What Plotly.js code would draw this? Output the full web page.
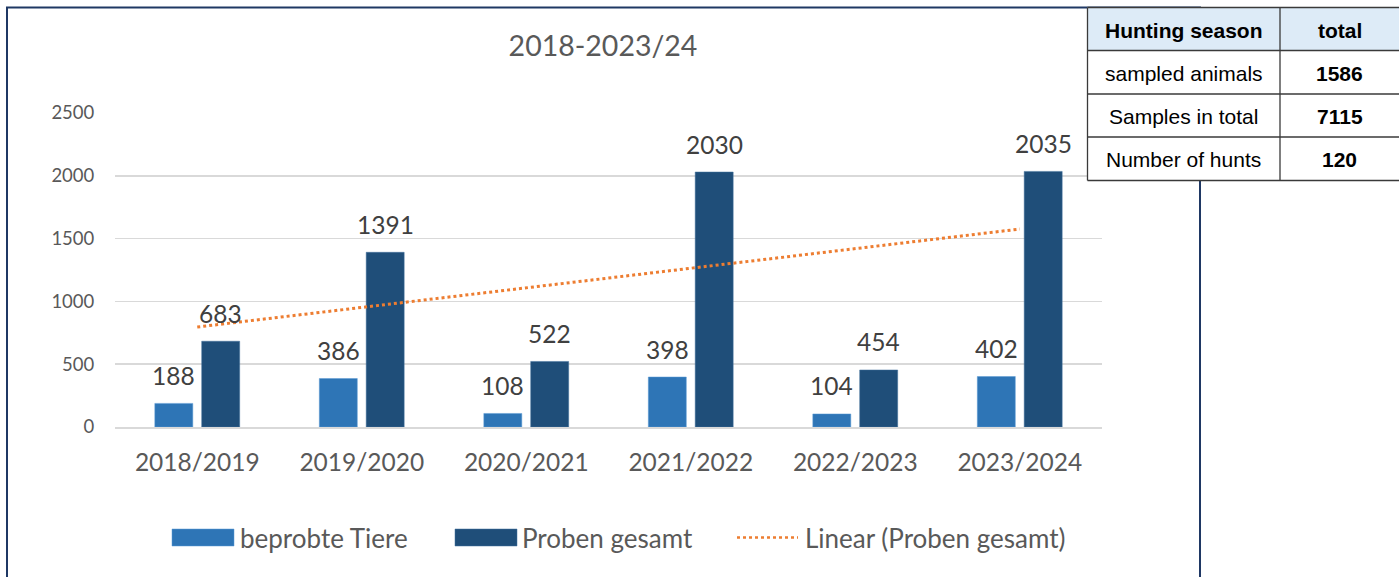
<!DOCTYPE html>
<html>
<head>
<meta charset="utf-8">
<script src="https://cdn.plot.ly/plotly-3.0.1.min.js"></script>
<style>html,body{margin:0;padding:0;background:#fff;}#chart{width:1399px;height:577px;}</style>
</head>
<body>
<div id="chart"></div>
<script>
// ---- data ----
const categories = ['2018/2019', '2019/2020', '2020/2021', '2021/2022', '2022/2023', '2023/2024'];
const beprobteTiere = [188, 386, 108, 398, 104, 402];
const probenGesamt = [683, 1391, 522, 2030, 454, 2035];
// linear trendline endpoints
const trendCategories = ['2018/2019', '2023/2024'];
const trendValues = [796, 1576];
const yTicks = [0, 500, 1000, 1500, 2000, 2500];
const seriesNames = ['beprobte Tiere', 'Proben gesamt', 'Linear (Proben gesamt)'];
// side table
const tableHeader = ['Hunting season', 'total'];
const tableLabels = ['sampled animals', 'Samples in total', 'Number of hunts'];
const tableTotals = [1586, 7115, 120];

const W = 1399, H = 577;
const px = v => v / W;
const py = v => (H - v) / H;

const font = 'Lato, "Open Sans", sans-serif';
const tfont = '"Liberation Sans", Arial, sans-serif';
const grey = '#595959';
const colLight = '#2E75B6', colDark = '#1F4E79', colTrend = '#ED7D31';

const traces = [
  {type: 'bar', name: seriesNames[0], x: categories, y: beprobteTiere,
    marker: {color: colLight, line: {color: '#5B9BD5', width: 0.5}}, hoverinfo: 'skip'},
  {type: 'bar', name: seriesNames[1], x: categories, y: probenGesamt,
    marker: {color: colDark, line: {color: '#41719C', width: 0.5}}, hoverinfo: 'skip'},
  {type: 'scatter', mode: 'lines', name: seriesNames[2], x: trendCategories, y: trendValues,
    line: {color: colTrend, width: 3, dash: 'dot'}, hoverinfo: 'skip'}
];

const annotations = [];
categories.forEach((c, i) => {
  annotations.push({x: c, y: beprobteTiere[i], xref: 'x', yref: 'y', text: String(beprobteTiere[i]),
    showarrow: false, xshift: -23.5, yshift: 28, yanchor: 'middle',
    font: {family: font, size: 24.5, color: '#404040'}});
  annotations.push({x: c, y: probenGesamt[i], xref: 'x', yref: 'y', text: String(probenGesamt[i]),
    showarrow: false, xshift: 23.5, yshift: 28, yanchor: 'middle',
    font: {family: font, size: 24.5, color: '#404040'}});
});

const shapes = [
  // chart frame
  {type: 'rect', xref: 'paper', yref: 'paper', x0: px(7), x1: px(1200), y0: py(578), y1: py(7.5),
    line: {color: '#1F3864', width: 2}, fillcolor: 'rgba(0,0,0,0)', layer: 'below'}
];

// custom legend
const legY = 537.5;
shapes.push({type: 'rect', xref: 'paper', yref: 'paper', x0: px(172), x1: px(234), y0: py(546), y1: py(529),
  fillcolor: colLight, line: {color: '#5B9BD5', width: 0.5}});
shapes.push({type: 'rect', xref: 'paper', yref: 'paper', x0: px(455), x1: px(517), y0: py(546), y1: py(529),
  fillcolor: colDark, line: {color: '#41719C', width: 0.5}});
shapes.push({type: 'line', xref: 'paper', yref: 'paper', x0: px(737), x1: px(798), y0: py(legY), y1: py(legY),
  line: {color: colTrend, width: 2.5, dash: 'dot'}});
[[238, 0], [520, 1], [803, 2]].forEach(([x, k]) => {
  annotations.push({xref: 'paper', yref: 'paper', x: px(x), y: py(legY), xanchor: 'left', yanchor: 'middle',
    text: seriesNames[k], showarrow: false, font: {family: font, size: 26, color: grey}});
});

// side table
const colX = [1087.5, 1280, 1400];
const rowY = [7.5, 50.5, 94, 137, 180.5];
shapes.push({type: 'rect', xref: 'paper', yref: 'paper', x0: px(colX[0]), x1: px(colX[2]), y0: py(rowY[4]), y1: py(rowY[0]),
  fillcolor: '#FFFFFF', line: {width: 0}, layer: 'above'});
shapes.push({type: 'rect', xref: 'paper', yref: 'paper', x0: px(colX[0]), x1: px(colX[2]), y0: py(rowY[1]), y1: py(rowY[0]),
  fillcolor: '#DDEBF7', line: {width: 0}, layer: 'above'});
rowY.forEach(y => shapes.push({type: 'line', xref: 'paper', yref: 'paper', x0: px(colX[0]), x1: px(colX[2]), y0: py(y), y1: py(y),
  line: {color: '#3A3A3A', width: 1.3}, layer: 'above'}));
colX.slice(0, 2).forEach(x => shapes.push({type: 'line', xref: 'paper', yref: 'paper', x0: px(x), x1: px(x), y0: py(rowY[4]), y1: py(rowY[0]),
  line: {color: '#3A3A3A', width: 1.3}, layer: 'above'}));
const cellText = (txt, ci, ri, bold) => ({
  xref: 'paper', yref: 'paper', x: px((colX[ci] + (ci === 1 ? 1399 : colX[ci + 1])) / 2),
  y: py((rowY[ri] + rowY[ri + 1]) / 2 + 1), xanchor: 'center', yanchor: 'middle', showarrow: false,
  text: bold ? '<b>' + txt + '</b>' : txt, font: {family: tfont, size: 21, color: '#000'}
});
tableHeader.forEach((t, ci) => annotations.push(cellText(t, ci, 0, true)));
tableLabels.forEach((t, ri) => {
  annotations.push(cellText(t, 0, ri + 1, false));
  annotations.push(cellText(String(tableTotals[ri]), 1, ri + 1, true));
});

const layout = {
  width: W, height: H,
  margin: {l: 0, r: 0, t: 0, b: 0, autoexpand: false},
  paper_bgcolor: '#fff', plot_bgcolor: '#fff',
  font: {family: font, color: grey},
  title: {text: '2018-2023/24', x: px(603), xanchor: 'center', y: py(46), yanchor: 'middle', xref: 'paper', yref: 'paper',
    font: {family: font, size: 28.5, color: grey}},
  barmode: 'group', bargap: 0.43, bargroupgap: 0.19,
  showlegend: false,
  xaxis: {
    domain: [px(115), px(1102)], anchor: 'y',
    type: 'category', showgrid: false, zeroline: false,
    showline: true, linecolor: '#D9D9D9', linewidth: 1.5,
    ticks: 'outside', ticklen: 13, tickcolor: 'rgba(0,0,0,0)',
    tickfont: {family: font, size: 24.5, color: grey}
  },
  yaxis: {
    domain: [py(427), py(113)], anchor: 'x',
    range: [0, 2500], tickvals: yTicks, ticktext: yTicks.map(String),
    showgrid: true, gridcolor: '#D9D9D9', gridwidth: 1.5, zeroline: false, showline: false,
    ticks: 'outside', ticklen: 16, tickcolor: 'rgba(0,0,0,0)',
    tickfont: {family: font, size: 18.5, color: grey}
  },
  shapes: shapes,
  annotations: annotations
};

Plotly.newPlot('chart', traces, layout, {displayModeBar: false, staticPlot: true});
</script>
</body>
</html>
